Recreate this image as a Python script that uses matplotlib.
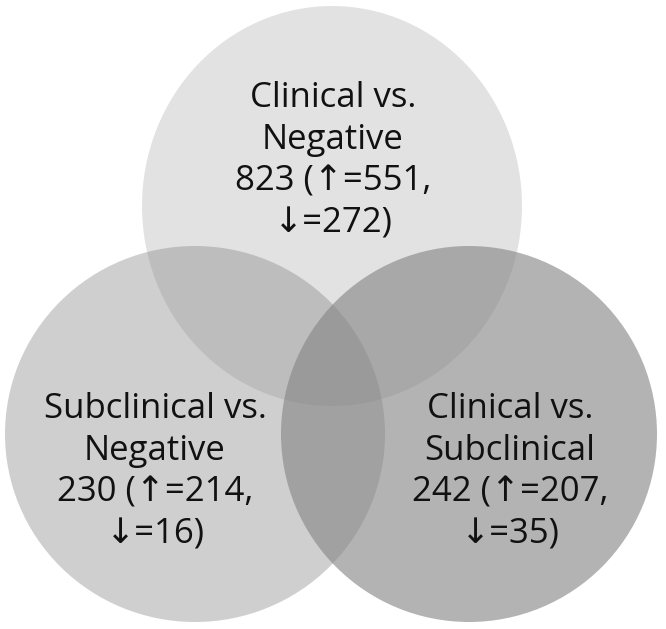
import matplotlib.pyplot as plt
from matplotlib.patches import Ellipse

# circle labels (line by line) and comparison counts
titles = ['Clinical vs.\nNegative', 'Subclinical vs.\nNegative', 'Clinical vs.\nSubclinical']
totals = [823, 230, 242]
ups = [551, 214, 207]
downs = [272, 16, 35]

# layout in pixel units of the 666x629 image
centers = [(332, 206), (195, 434), (469, 434)]
widths = [380, 380, 376]
heights = [400, 376, 376]
alphas = [0.23, 0.39, 0.61]
text_pos = [(333, 161), (155, 472), (510, 472)]

fig = plt.figure(figsize=(6.66, 6.29), dpi=100)
ax = fig.add_axes([0, 0, 1, 1])
ax.set_xlim(0, 666)
ax.set_ylim(629, 0)
ax.axis('off')

for (cx, cy), w, h, a in zip(centers, widths, heights, alphas):
    ax.add_patch(Ellipse((cx, cy), w, h, facecolor='#848484', alpha=a, edgecolor='none'))

for (tx, ty), t, n, u, d in zip(text_pos, titles, totals, ups, downs):
    label = f'{t}\n{n} (\u2191={u},\n\u2193={d})'
    ax.text(tx, ty, label, ha='center', va='center', fontsize=25,
            family=['Open Sans', 'DejaVu Sans'], linespacing=1.3, color='#111111')

fig.savefig('out.png', dpi=100)
